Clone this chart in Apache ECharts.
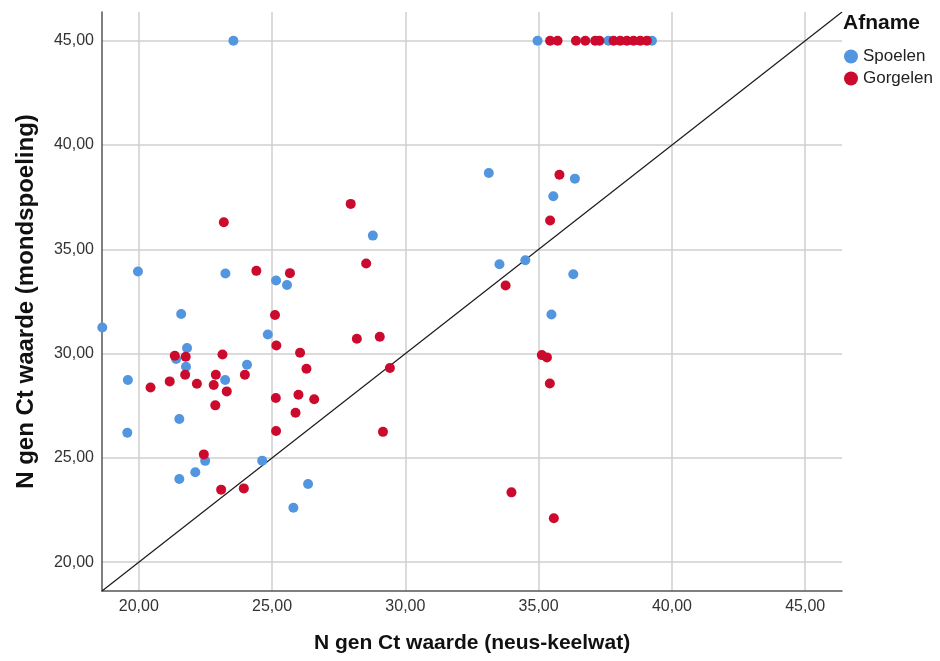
<!DOCTYPE html>
<html>
<head>
<meta charset="utf-8">
<script src="https://cdn.jsdelivr.net/npm/echarts@6/dist/echarts.min.js"></script>
<style>html,body{margin:0;padding:0;background:#fff;}#c{width:940px;height:661px;}</style>
</head>
<body>
<div id="c"></div>
<script>
const tickValues = [20, 25, 30, 35, 40, 45];
const axisMin = 18.62, axisMax = 46.38;
const refLineX = [18.62, 46.38];
const refLineY = [18.62, 46.38];

const spoelenX = [23.55,34.96,37.62,39.25,28.78,19.97,23.25,25.15,25.56,33.13,36.36,35.55,33.53,34.50,36.30,35.48,18.63,21.59,24.84,21.81,21.40,21.77,24.06,19.59,23.24,21.52,19.57,22.49,24.63,22.12,21.52,26.35,25.80];
const spoelenY = [45.00,45.00,45.00,45.00,35.66,33.94,33.84,33.51,33.29,38.66,38.39,37.55,34.29,34.48,33.81,31.88,31.25,31.90,30.92,30.27,29.74,29.37,29.47,28.74,28.74,26.87,26.21,24.86,24.87,24.31,23.99,23.75,22.61];

const gorgelenX = [35.43,35.71,36.40,36.75,37.12,37.28,37.81,38.06,38.31,38.56,38.81,39.06,23.19,27.95,28.53,24.41,25.67,35.78,35.43,33.76,35.12,35.31,35.42,33.98,35.57,25.11,25.16,21.35,21.76,23.14,26.05,28.18,29.04,26.29,29.42,21.74,21.16,22.89,23.98,20.44,22.18,22.81,23.30,22.87,25.14,25.99,26.58,25.88,25.15,29.16,22.44,23.09,23.94];
const gorgelenY = [45.00,45.00,45.00,45.00,45.00,45.00,45.00,45.00,45.00,45.00,45.00,45.00,36.30,37.18,34.32,33.97,33.86,38.58,36.38,33.27,29.93,29.82,28.57,23.35,22.11,31.85,30.39,29.90,29.85,29.96,30.04,30.71,30.81,29.28,29.31,28.99,28.67,28.99,28.99,28.38,28.56,28.50,28.19,27.52,27.87,28.03,27.81,27.17,26.29,26.25,25.17,23.48,23.54];

const zip = (xs, ys) => xs.map((x, i) => [x, ys[i]]);
const FONT = 'Liberation Sans, Arial, sans-serif';
const fmt = v => v.toFixed(2).replace('.', ',');

function axis(name, gap, nameSize) {
  return {
    type: 'value', min: axisMin, max: axisMax,
    name: name, nameLocation: 'middle', nameGap: gap,
    nameTextStyle: { fontFamily: FONT, fontSize: nameSize, fontWeight: 'bold', color: '#111' },
    axisLine: { show: true, onZero: false, lineStyle: { color: '#555', width: 1.5 } },
    axisTick: { show: false, customValues: tickValues },
    axisLabel: { customValues: tickValues, formatter: fmt, fontFamily: FONT, fontSize: 16, color: '#333', margin: 8 },
    splitLine: { show: true, lineStyle: { color: '#cfcfcf', width: 1.5 } }
  };
}

const chart = echarts.init(document.getElementById('c'), null, { renderer: 'canvas' });
chart.setOption({
  animation: false,
  backgroundColor: '#fff',
  title: { text: 'Afname', left: 838, top: 8, textStyle: { fontFamily: FONT, fontSize: 21, fontWeight: 'bold', color: '#111' } },
  legend: {
    orient: 'vertical', left: 839, top: 43, itemWidth: 14, itemHeight: 14, itemGap: 5,
    icon: 'circle', data: ['Spoelen', 'Gorgelen'],
    textStyle: { fontFamily: FONT, fontSize: 17, color: '#222' }
  },
  grid: { left: 102, right: 98, top: 12, bottom: 70, containLabel: false, outerBoundsMode: 'none' },
  xAxis: axis('N gen Ct waarde (neus-keelwat)', 42, 21),
  yAxis: axis('N gen Ct waarde (mondspoeling)', 64, 24),
  series: [
    { name: 'ref', type: 'line', data: zip(refLineX, refLineY), symbol: 'none', silent: true,
      lineStyle: { color: '#1a1a1a', width: 1.2 }, z: 1 },
    { name: 'Spoelen', type: 'scatter', data: zip(spoelenX, spoelenY), symbolSize: 10,
      itemStyle: { color: '#5396e0', opacity: 1 }, z: 3 },
    { name: 'Gorgelen', type: 'scatter', data: zip(gorgelenX, gorgelenY), symbolSize: 10,
      itemStyle: { color: '#cc0a2e', opacity: 1 }, z: 4 }
  ]
});
</script>
</body>
</html>
